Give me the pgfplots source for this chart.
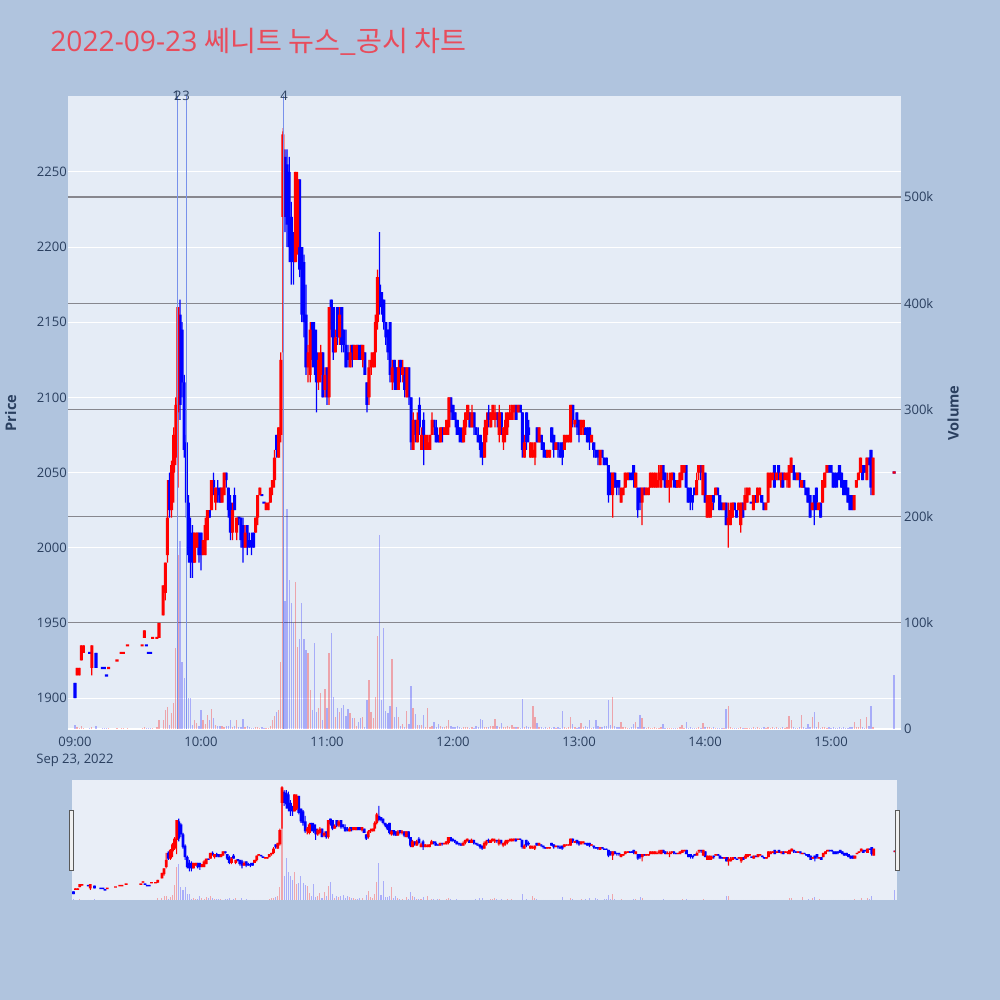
\documentclass[border=0pt]{standalone}
\usepackage{fontspec}
\setmainfont{Open Sans}
\newfontfamily\cjk{Noto Sans CJK KR}
\usepackage{pgfplots}
\usepackage{pgfplotstable}
\pgfplotsset{compat=1.18}

\definecolor{paper}{RGB}{176,196,222}
\definecolor{plotbg}{RGB}{229,236,246}
\definecolor{sliderbg}{RGB}{233,238,247}
\definecolor{txt}{RGB}{42,63,95}
\definecolor{vgrid}{RGB}{135,135,142}
\definecolor{newsline}{RGB}{120,145,235}
\definecolor{titlered}{RGB}{232,76,92}

% one row per minute: t = minutes after 09:00, price o h l c, volume v in thousands
\pgfplotstableread{
t o h l c v
1 1915 1920 1915 1920 2
2 1915 1920 1915 1920 1
3 1925 1935 1925 1935 3
4 1930 1935 1930 1935 1
8 1920 1935 1915 1935 2
16 1920 1920 1920 1920 1
20 1925 1925 1925 1925 1
22 1930 1930 1930 1930 1
23 1930 1930 1930 1930 1
25 1935 1935 1935 1935 1
32 1935 1935 1935 1935 1
33 1940 1945 1940 1945 2
37 1940 1940 1940 1940 1
39 1940 1940 1940 1940 2
40 1940 1950 1940 1950 8
42 1955 1975 1955 1975 8
43 1970 1990 1965 1990 18
44 1995 2045 1990 2020 21
46 2025 2058 2020 2055 15
47 2050 2080 2030 2075 24
48 2060 2100 2055 2095 76
49 2090 2160 2040 2160 164
57 1990 2010 1990 2010 8
58 2000 2010 2000 2010 6
61 1995 2005 1995 2005 8
62 1995 2020 1995 2015 5
63 2005 2025 2005 2025 13
65 2025 2045 2025 2045 19
67 2030 2040 2025 2040 4
70 2030 2040 2030 2040 3
71 2035 2050 2035 2050 2
75 2010 2030 2005 2025 2
77 2010 2020 2005 2020 8
81 2000 2015 2000 2010 2
86 2010 2020 2010 2020 2
87 2020 2035 2015 2035 2
88 2035 2040 2035 2040 1
91 2025 2030 2025 2030 1
92 2025 2030 2025 2030 1
93 2030 2040 2030 2040 3
94 2040 2045 2035 2045 8
95 2045 2065 2040 2060 12
97 2060 2080 2060 2080 18
98 2075 2130 2070 2125 63
99 2220 2277 2130 2275 565
105 2190 2250 2190 2250 138
106 2200 2250 2195 2245 77
111 2120 2135 2110 2130 71
112 2115 2150 2110 2145 37
116 2110 2130 2105 2125 20
117 2115 2135 2110 2130 34
119 2105 2120 2100 2115 38
121 2100 2160 2095 2160 71
124 2130 2145 2130 2140 11
126 2140 2160 2135 2155 16
131 2120 2135 2120 2130 15
133 2125 2135 2125 2135 10
134 2125 2135 2125 2135 3
137 2125 2135 2120 2135 11
140 2100 2125 2095 2120 46
141 2120 2130 2115 2125 16
142 2120 2130 2120 2130 10
143 2130 2155 2120 2150 30
144 2150 2185 2145 2180 87
151 2110 2125 2105 2120 66
154 2105 2125 2105 2120 11
156 2115 2125 2110 2120 5
158 2100 2120 2100 2120 17
161 2065 2090 2065 2085 20
163 2070 2090 2070 2085 4
165 2065 2080 2065 2075 4
167 2065 2075 2065 2075 2
168 2065 2075 2065 2070 20
169 2065 2075 2065 2075 2
170 2075 2090 2075 2085 3
174 2070 2080 2070 2080 3
176 2075 2080 2075 2080 2
177 2075 2085 2075 2085 3
178 2080 2100 2075 2100 8
185 2070 2085 2070 2080 2
186 2080 2090 2075 2090 2
187 2085 2095 2085 2095 2
189 2080 2095 2080 2090 2
195 2060 2085 2060 2080 2
196 2075 2090 2070 2085 2
198 2080 2090 2080 2090 3
199 2085 2095 2085 2095 3
200 2085 2095 2080 2090 9
202 2075 2095 2070 2090 2
204 2070 2080 2065 2080 2
205 2075 2090 2070 2085 2
206 2080 2090 2075 2090 3
207 2085 2095 2085 2090 2
208 2085 2095 2085 2095 4
209 2090 2095 2085 2095 2
211 2090 2095 2090 2095 2
214 2060 2075 2060 2070 2
217 2060 2070 2060 2070 2
218 2060 2070 2060 2065 22
219 2060 2070 2055 2070 11
221 2070 2080 2070 2080 2
225 2060 2065 2060 2065 1
226 2060 2065 2060 2065 2
229 2065 2070 2065 2070 1
233 2065 2075 2065 2075 2
234 2070 2075 2070 2075 1
235 2070 2075 2070 2075 2
236 2070 2095 2070 2095 11
238 2082 2085 2080 2085 2
241 2075 2085 2075 2085 6
242 2080 2085 2075 2085 2
246 2070 2075 2070 2075 1
250 2055 2065 2055 2065 2
256 2035 2050 2020 2050 30
260 2030 2040 2030 2040 7
261 2035 2040 2035 2040 2
262 2040 2050 2040 2050 2
263 2045 2050 2045 2050 1
267 2040 2050 2040 2050 7
270 2030 2040 2015 2040 10
272 2035 2040 2035 2040 1
273 2035 2040 2035 2040 2
274 2040 2050 2040 2050 1
275 2040 2050 2040 2050 1
276 2040 2050 2040 2050 2
277 2040 2050 2040 2045 1
278 2045 2055 2040 2050 1
279 2040 2055 2040 2055 2
282 2040 2050 2040 2045 1
283 2040 2050 2030 2045 1
284 2045 2050 2040 2050 1
287 2040 2045 2040 2045 1
288 2040 2050 2040 2050 2
289 2045 2055 2045 2055 4
290 2050 2055 2050 2055 1
296 2035 2050 2035 2045 1
297 2050 2055 2045 2055 2
299 2035 2055 2035 2055 6
301 2020 2035 2020 2035 2
302 2020 2035 2020 2035 2
303 2025 2035 2020 2030 1
305 2035 2040 2035 2040 1
309 2025 2030 2025 2030 1
311 2015 2030 2000 2020 22
312 2015 2030 2015 2025 2
313 2020 2030 2020 2030 1
316 2025 2030 2025 2030 1
317 2015 2030 2010 2030 2
319 2025 2040 2025 2035 1
320 2030 2040 2030 2040 1
321 2035 2040 2035 2040 1
323 2025 2035 2025 2035 2
325 2030 2040 2030 2040 2
326 2035 2040 2035 2040 1
329 2025 2030 2025 2030 1
330 2030 2050 2030 2050 2
331 2040 2050 2040 2050 1
332 2045 2050 2045 2050 2
334 2045 2050 2045 2050 2
336 2045 2050 2040 2050 1
338 2045 2050 2045 2050 1
339 2045 2050 2040 2050 2
340 2040 2055 2040 2055 12
341 2050 2060 2050 2060 8
344 2045 2050 2045 2050 1
346 2040 2045 2040 2045 13
351 2025 2030 2025 2030 11
354 2025 2030 2025 2030 7
356 2030 2045 2030 2045 2
357 2040 2050 2040 2050 2
358 2050 2055 2050 2055 1
371 2025 2035 2025 2035 7
372 2040 2045 2040 2045 2
373 2045 2050 2045 2050 2
374 2050 2060 2050 2060 9
377 2045 2060 2045 2060 11
380 2035 2060 2035 2060 2
390 2050 2050 2050 2050 0
}\candleup

\pgfplotstableread{
t o h l c v
0 1910 1910 1900 1900 4
7 1930 1930 1930 1930 1
10 1930 1930 1920 1920 3
13 1920 1920 1920 1920 1
14 1920 1920 1920 1920 1
15 1915 1915 1915 1915 1
34 1935 1935 1935 1935 1
35 1930 1930 1930 1930 1
36 1930 1930 1930 1930 1
45 2045 2050 2020 2025 4
50 2155 2165 2085 2095 177
51 2145 2150 2100 2110 63
52 2110 2115 2060 2065 48
53 2070 2075 2020 2030 62
54 2030 2035 1990 1995 29
55 2010 2020 1980 1990 29
56 2010 2015 1980 1990 4
59 2010 2010 1990 1995 3
60 2010 2010 1985 1995 18
64 2025 2025 2020 2020 8
66 2045 2050 2035 2040 10
68 2040 2045 2030 2035 3
69 2040 2040 2030 2030 3
72 2050 2050 2040 2045 3
73 2040 2040 2020 2025 3
74 2030 2035 2005 2010 8
76 2035 2040 2025 2025 3
78 2020 2020 2015 2020 2
79 2020 2020 2000 2005 2
80 2015 2020 1990 2000 9
82 2015 2015 1995 2000 3
83 2005 2010 2000 2000 2
84 2005 2010 1995 2000 1
85 2010 2010 2000 2000 1
89 2035 2035 2035 2035 2
90 2030 2030 2030 2030 1
96 2075 2075 2060 2065 16
100 2260 2265 2210 2220 120
101 2255 2265 2200 2215 207
102 2250 2260 2190 2200 140
103 2220 2230 2175 2190 118
104 2200 2210 2175 2190 100
107 2245 2245 2180 2185 85
108 2200 2200 2150 2155 118
109 2190 2195 2140 2150 85
110 2155 2175 2115 2120 74
113 2150 2150 2120 2125 18
114 2145 2150 2115 2120 81
115 2130 2145 2090 2110 16
118 2130 2130 2100 2100 8
120 2120 2120 2095 2100 20
122 2165 2165 2140 2145 90
123 2160 2160 2125 2130 30
125 2160 2160 2135 2140 20
127 2160 2160 2130 2135 20
128 2145 2145 2130 2135 23
129 2135 2145 2120 2120 12
130 2130 2135 2120 2125 19
132 2135 2135 2120 2125 10
135 2135 2135 2125 2125 7
136 2135 2135 2125 2125 10
138 2130 2130 2115 2115 2
139 2110 2110 2090 2095 27
145 2175 2210 2155 2160 182
146 2170 2170 2155 2160 27
147 2165 2165 2145 2150 95
148 2150 2150 2135 2140 17
149 2145 2145 2125 2130 15
150 2150 2150 2110 2115 22
152 2125 2125 2105 2110 11
153 2120 2120 2105 2105 21
155 2125 2125 2110 2115 3
157 2120 2120 2100 2105 2
159 2120 2120 2095 2100 5
160 2100 2100 2065 2070 40
162 2085 2085 2070 2075 14
164 2095 2100 2075 2080 4
166 2085 2090 2055 2065 13
171 2085 2085 2075 2080 7
172 2080 2085 2070 2070 2
173 2075 2075 2070 2070 5
175 2080 2080 2070 2075 2
179 2100 2100 2085 2090 3
180 2095 2095 2085 2085 2
181 2090 2090 2080 2085 2
182 2085 2085 2075 2075 3
183 2080 2080 2070 2075 2
184 2075 2080 2070 2070 1
188 2090 2090 2080 2080 1
190 2090 2090 2075 2080 1
191 2080 2080 2075 2075 3
192 2075 2080 2070 2070 2
193 2075 2075 2060 2065 9
194 2070 2070 2055 2060 8
197 2090 2095 2080 2085 2
201 2090 2090 2080 2085 3
203 2090 2090 2075 2080 6
210 2095 2095 2085 2085 2
212 2095 2095 2090 2090 1
213 2090 2090 2060 2065 28
215 2090 2090 2065 2070 3
216 2080 2085 2070 2075 2
220 2080 2080 2070 2070 6
222 2075 2075 2065 2070 2
223 2070 2070 2060 2065 1
224 2065 2065 2060 2060 2
227 2080 2080 2070 2070 1
228 2075 2075 2060 2065 2
230 2070 2070 2060 2065 2
231 2065 2070 2060 2060 1
232 2070 2070 2055 2060 17
237 2095 2095 2080 2085 5
239 2090 2090 2075 2080 1
240 2085 2085 2070 2075 2
243 2080 2080 2075 2075 3
244 2080 2080 2070 2070 2
245 2080 2080 2065 2070 8
247 2070 2070 2060 2065 2
248 2065 2065 2060 2060 8
249 2065 2065 2055 2060 3
251 2065 2065 2060 2060 2
252 2060 2060 2055 2055 3
253 2060 2060 2055 2055 3
254 2055 2055 2030 2035 27
255 2050 2050 2035 2040 4
257 2050 2050 2040 2040 3
258 2045 2045 2035 2040 2
259 2045 2045 2035 2040 2
264 2050 2050 2045 2045 1
265 2050 2050 2045 2045 2
266 2055 2055 2040 2045 5
268 2040 2040 2020 2025 2
269 2040 2040 2025 2030 13
271 2040 2040 2035 2035 2
280 2055 2055 2045 2045 5
281 2050 2050 2040 2040 1
285 2050 2050 2040 2045 1
286 2045 2045 2040 2040 1
291 2055 2055 2040 2040 7
292 2040 2040 2030 2030 1
293 2040 2040 2025 2030 2
294 2035 2035 2025 2030 1
295 2040 2040 2035 2035 1
298 2055 2055 2045 2050 1
300 2050 2050 2030 2030 2
304 2035 2035 2025 2030 2
306 2040 2040 2035 2035 1
307 2035 2035 2025 2025 1
308 2030 2030 2025 2025 1
310 2030 2030 2015 2015 19
314 2030 2030 2025 2025 1
315 2025 2025 2020 2020 1
318 2030 2030 2020 2020 1
322 2030 2030 2030 2030 1
324 2035 2035 2030 2030 1
327 2035 2035 2030 2030 1
328 2030 2030 2025 2025 2
333 2055 2055 2040 2040 1
335 2055 2055 2045 2045 1
337 2050 2050 2040 2040 2
342 2055 2055 2045 2050 2
343 2050 2050 2045 2045 1
345 2050 2050 2040 2045 2
347 2045 2045 2040 2040 2
348 2040 2040 2035 2035 1
349 2040 2040 2030 2030 5
350 2035 2035 2020 2020 2
352 2035 2035 2015 2025 16
353 2040 2040 2025 2030 2
355 2030 2030 2020 2020 1
359 2055 2055 2050 2050 2
360 2055 2055 2050 2050 1
361 2050 2050 2040 2040 2
362 2050 2050 2040 2040 1
363 2050 2050 2040 2045 1
364 2055 2055 2045 2045 2
365 2050 2050 2040 2040 1
366 2045 2045 2035 2035 2
367 2045 2045 2035 2035 1
368 2040 2040 2030 2030 1
369 2035 2035 2025 2025 2
370 2035 2035 2025 2025 2
375 2055 2055 2045 2045 2
376 2055 2055 2050 2050 1
378 2060 2060 2055 2055 3
379 2065 2065 2035 2040 22
390 2050 2050 2050 2050 51
}\candledown

\pgfplotsset{
  base/.style={scale only axis, axis line style={draw=none}, major tick length=0pt,
    ticklabel style={font=\fontsize{9.4pt}{12.2pt}\selectfont, text=txt, inner sep=0pt},
    /pgf/number format/assume math mode=true, /pgf/number format/1000 sep={}},
  main/.style={base, at={(48.96pt,195.12pt)}, anchor=south west,
    width=599.76pt, height=455.76pt, xmin=-3.33, xmax=393.3},
  slider/.style={base, at={(51.84pt,72pt)}, anchor=south west,
    width=594pt, height=86.4pt, xmin=-0.7, xmax=391},
  price/.style={ymin=1879.4, ymax=2300.5},
  vol/.style={ymin=0, ymax=595},
  volbar/.style n args={3}{ycomb, mark=none, draw=#1, draw opacity=#2, line width=#3},
}

% stacked bars: an invisible bar up to the low end, a coloured one on top of it
% #1 geometry, #2 table, #3 colour, #4 wick width, #5 body width, #6 least half body
\newcommand\candlelayer[6]{%
\begin{axis}[#1, price, xtick=\empty, ytick=\empty, ybar stacked, bar width=#4]
\addplot[draw=none, fill=none] table[x=t, y=l] {#2};
\addplot[draw=none, fill=#3] table[x=t, y expr={\thisrow{h}-\thisrow{l}}] {#2};
\end{axis}
\begin{axis}[#1, price, xtick=\empty, ytick=\empty, ybar stacked, bar width=#5]
\addplot[draw=none, fill=none] table[x=t,
  y expr={min(\thisrow{o},\thisrow{c})-max(#6-abs(\thisrow{c}-\thisrow{o})/2,0)}] {#2};
\addplot[draw=none, fill=#3] table[x=t,
  y expr={max(abs(\thisrow{c}-\thisrow{o}),2*#6)}] {#2};
\end{axis}}

\begin{document}
\begin{tikzpicture}
\fill[paper] (0,0) rectangle (720pt,720pt);

% price axis: background, white grid, labels
\begin{axis}[main, price,
  axis background/.style={fill=plotbg},
  ytick={1900,1950,...,2250}, ymajorgrids,
  major grid style={white, line width=0.72pt},
  yticklabel style={anchor=east, xshift=-0.7pt},
  xtick={0,60,120,180,240,300,360},
  xticklabels={{09:00\\Sep 23, 2022},10:00,11:00,12:00,13:00,14:00,15:00},
  xticklabel style={anchor=north, align=center, yshift=-5.6pt}]
\addplot[draw=none] coordinates {(0,1900)};
\end{axis}

% volume axis
\begin{axis}[main, vol, xtick=\empty,
  ytick={100,200,300,400,500}, yticklabels={100k,200k,300k,400k,500k},
  yticklabel pos=right, ymajorgrids,
  major grid style={vgrid, line width=0.85pt},
  yticklabel style={anchor=west, xshift=2pt},
  extra y ticks={0}, extra y tick labels={0},
  extra y tick style={major grid style={white, line width=1.44pt}}]
\addplot[volbar={blue}{0.27}{0.95pt}] table[x=t, y=v] {\candledown};
\addplot[volbar={red}{0.3}{0.95pt}] table[x=t, y=v] {\candleup};
\end{axis}

% candles
\candlelayer{main}{\candledown}{blue}{0.9pt}{2.2pt}{0.7}
\candlelayer{main}{\candleup}{red}{0.9pt}{2.2pt}{0.7}

% news markers
\begin{axis}[main, price, xtick=\empty, ytick=\empty, clip=false]
\addplot[newsline, line width=0.72pt] coordinates {(48.7,1879.4) (48.7,2300.5)};
\addplot[newsline, line width=0.72pt] coordinates {(52.9,1879.4) (52.9,2300.5)};
\addplot[newsline, line width=0.72pt] coordinates {(99.2,1879.4) (99.2,2300.5)};
\begin{scope}[every node/.style={font=\fontsize{9.4pt}{11pt}\selectfont, text=txt, inner sep=0pt}]
\node at (axis cs:48.2,2300.5) {1};
\node at (axis cs:49.0,2300.5) {2};
\node at (axis cs:52.9,2300.5) {3};
\node at (axis cs:99.6,2300.5) {4};
\end{scope}
\end{axis}

% range slider
\begin{axis}[slider, vol, xtick=\empty, ytick=\empty, axis background/.style={fill=sliderbg}]
\addplot[volbar={blue}{0.27}{0.75pt}] table[x=t, y=v] {\candledown};
\addplot[volbar={red}{0.3}{0.75pt}] table[x=t, y=v] {\candleup};
\end{axis}
\candlelayer{slider}{\candledown}{blue}{0.8pt}{2pt}{2.5}
\candlelayer{slider}{\candleup}{red}{0.8pt}{2pt}{2.5}
\draw[fill=white!94!black, draw=black!65, line width=0.6pt] (49.7pt,93.6pt) rectangle (52.6pt,136.8pt);
\draw[fill=white!94!black, draw=black!65, line width=0.6pt] (644.4pt,93.6pt) rectangle (647.3pt,136.8pt);

% titles
\node[anchor=base west, inner sep=0pt, text=titlered, font=\fontsize{20.3pt}{22pt}\selectfont]
  at (36pt,682.6pt) {2022-09-23 {\cjk 쎄니트 뉴스\_공시 차트}};
\node[rotate=90, inner sep=0pt, text=txt, font=\bfseries\fontsize{10.5pt}{12pt}\selectfont]
  at (7.6pt,422.6pt) {Price};
\node[rotate=90, inner sep=0pt, text=txt, font=\bfseries\fontsize{10.5pt}{12pt}\selectfont]
  at (686.2pt,422.6pt) {Volume};
\end{tikzpicture}
\end{document}
